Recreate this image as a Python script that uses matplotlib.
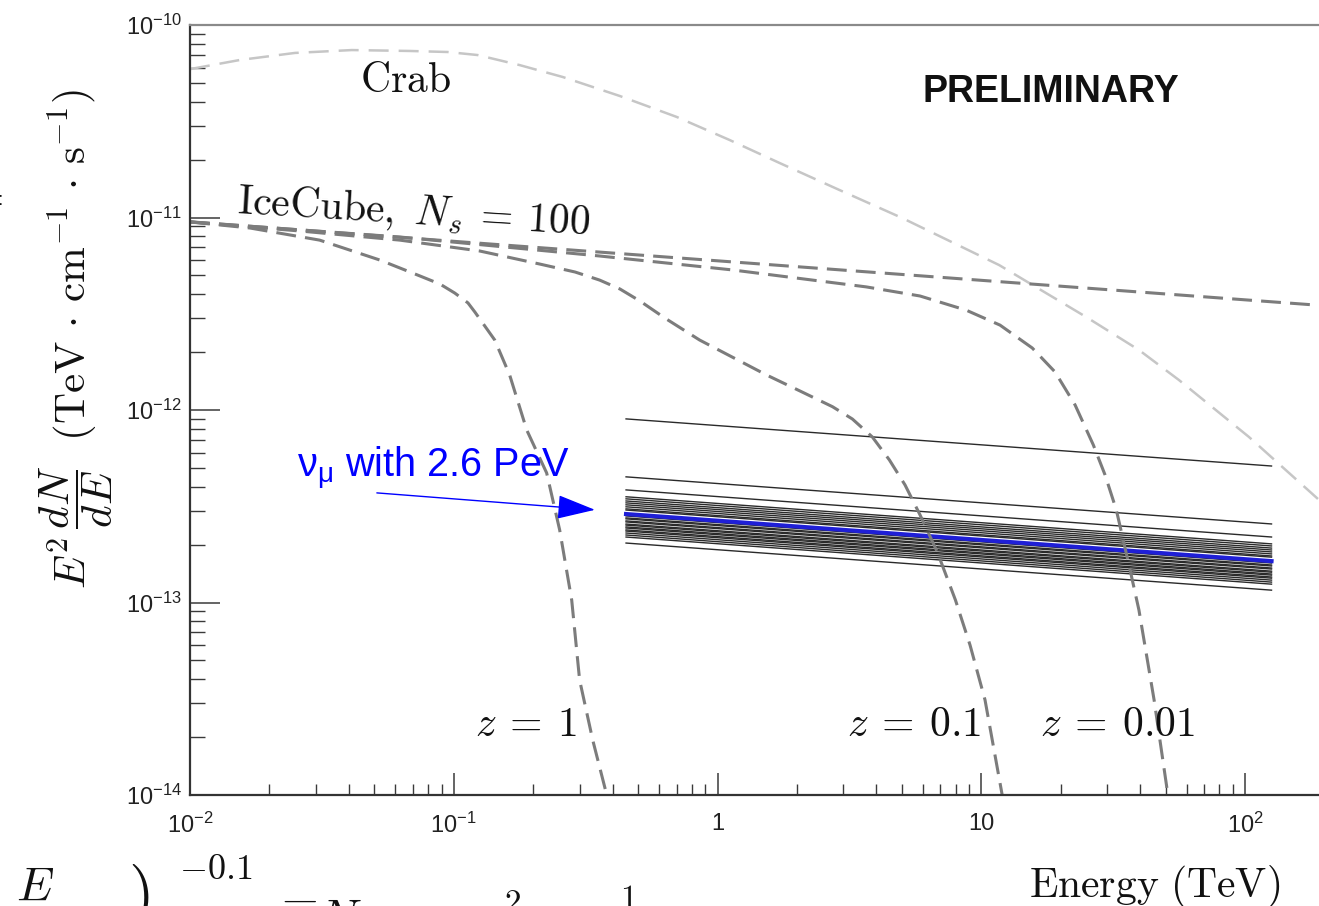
import numpy as np
import matplotlib
matplotlib.use('Agg')
import matplotlib.pyplot as plt
from matplotlib.ticker import LogLocator, FuncFormatter, NullFormatter

plt.rcParams['font.family'] = 'Liberation Sans'
plt.rcParams['mathtext.fontset'] = 'custom'
plt.rcParams['mathtext.rm'] = 'Liberation Sans'
plt.rcParams['mathtext.it'] = 'Liberation Sans:italic'
plt.rcParams['mathtext.bf'] = 'Liberation Sans:bold'

# E in TeV, E^2 dN/dE in TeV cm^-1 s^-1
crab_E = [0.01, 0.01545, 0.025, 0.0411, 0.0681, 0.0948, 0.1233, 0.1778, 0.2588, 0.4256,
          0.700, 1.109, 1.718, 2.897, 5.02, 11.69, 25.0, 39.6, 56.2, 103.5, 189.0]
crab_F = [5.90e-11, 6.58e-11, 7.16e-11, 7.41e-11, 7.33e-11, 7.24e-11, 6.98e-11, 6.19e-11,
          5.37e-11, 4.28e-11, 3.33e-11, 2.53e-11, 1.92e-11, 1.39e-11, 9.93e-12, 5.66e-12,
          3.04e-12, 2.05e-12, 1.43e-12, 7.24e-13, 3.45e-13]

icecube_E = [0.01, 190.0]
icecube_F = [9.5e-12, 3.5e-12]

# EBL absorbed IceCube spectrum for three redshifts
z1_E = [0.01, 0.01687, 0.0310, 0.0525, 0.0744, 0.0887, 0.1009, 0.1132, 0.1202, 0.1430,
        0.1629, 0.1891, 0.2250, 0.2521, 0.2800, 0.3000, 0.3364, 0.3802, 0.387]
z1_F = [9.48e-12, 8.82e-12, 7.63e-12, 6.01e-12, 4.97e-12, 4.51e-12, 4.05e-12, 3.60e-12,
        3.23e-12, 2.31e-12, 1.52e-12, 7.87e-13, 4.71e-13, 2.38e-13, 1.03e-13, 3.96e-14,
        1.93e-14, 1.0e-14, 9.4e-15]

z01_E = [0.01, 0.0261, 0.0624, 0.1253, 0.2119, 0.2883, 0.3573, 0.4269, 0.5084, 0.6323,
         0.855, 1.115, 1.534, 2.055, 2.729, 3.245, 3.864, 4.484, 5.139, 5.859, 6.81, 7.98,
         9.065, 10.33, 11.91, 12.1]
z01_F = [9.48e-12, 8.51e-12, 7.63e-12, 6.70e-12, 5.73e-12, 5.21e-12, 4.73e-12, 4.25e-12,
         3.68e-12, 3.00e-12, 2.31e-12, 1.91e-12, 1.52e-12, 1.255e-12, 1.04e-12, 8.98e-13,
         7.24e-13, 5.50e-13, 4.08e-13, 2.85e-13, 1.83e-13, 1.03e-13, 6.01e-14, 3.12e-14,
         1.06e-14, 9.4e-15]

z001_E = [0.01, 0.0624, 0.3573, 1.140, 3.664, 5.859, 8.77, 11.78, 15.6, 19.04, 22.68, 26.6,
          29.46, 32.5, 36.64, 39.6, 45.2, 51.0, 52.0]
z001_F = [9.48e-12, 7.92e-12, 6.31e-12, 5.34e-12, 4.36e-12, 3.91e-12, 3.30e-12, 2.76e-12,
          2.10e-12, 1.576e-12, 1.062e-12, 6.58e-13, 4.60e-13, 3.03e-13, 1.48e-13, 9.14e-14,
          3.12e-14, 1.0e-14, 9.4e-15]

# neutrino spectra E^-2.1, normalisation at 1 TeV
nu_range = [0.45, 126.0]
nu_index = -0.1
nu_norm = [8.30e-13, 4.15e-13, 3.55e-13, 3.27e-13, 3.19e-13, 3.11e-13, 3.04e-13, 2.97e-13,
           2.90e-13, 2.83e-13, 2.79e-13, 2.60e-13, 2.54e-13, 2.51e-13, 2.45e-13, 2.42e-13,
           2.36e-13, 2.33e-13, 2.28e-13, 2.25e-13, 2.20e-13, 2.17e-13, 2.12e-13, 2.07e-13,
           2.02e-13, 1.88e-13]
nu_pev_norm = 2.66e-13

W, H = 1319, 906
fig = plt.figure(figsize=(W / 100, H / 100), dpi=100)
ax = fig.add_axes([190 / W, 111 / H, 1150 / W, 770 / H])
ax.set_xscale('log')
ax.set_yscale('log')
ax.set_xlim(1e-2, 10 ** 2.36)
ax.set_ylim(1e-14, 1e-10)

E_nu = np.array(nu_range)
for n in nu_norm:
    ax.plot(E_nu, n * E_nu ** nu_index, color='#2a2a2a', lw=1.0)
ax.plot(E_nu, nu_pev_norm * E_nu ** nu_index, color='#1f1fd6', lw=3.0)

l, = ax.plot(crab_E, crab_F, color='#c6c6c6', lw=1.8)
l.set_dashes([8, 4])
for xs, ys in [(icecube_E, icecube_F), (z1_E, z1_F), (z01_E, z01_F), (z001_E, z001_F)]:
    l, = ax.plot(xs, ys, color='#7c7c7c', lw=2.2)
    l.set_dashes([6.5, 3])

for s in ['left', 'bottom']:
    ax.spines[s].set_color('#333333')
    ax.spines[s].set_linewidth(1.6)
ax.spines['top'].set_color('#8a8a8a')
ax.spines['top'].set_linewidth(1.6)
ax.spines['right'].set_visible(False)


def xfmt(v, pos):
    e = int(round(np.log10(v)))
    if e == 0:
        return '1'
    if e == 1:
        return '10'
    return r'$10^{%d}$' % e


def yfmt(v, pos):
    return r'$10^{%d}$' % int(round(np.log10(v)))


ax.xaxis.set_major_locator(LogLocator(base=10, numticks=20))
ax.xaxis.set_minor_locator(LogLocator(base=10, subs=np.arange(2, 10), numticks=20))
ax.yaxis.set_major_locator(LogLocator(base=10, numticks=20))
ax.yaxis.set_minor_locator(LogLocator(base=10, subs=np.arange(2, 10), numticks=20))
ax.xaxis.set_major_formatter(FuncFormatter(xfmt))
ax.yaxis.set_major_formatter(FuncFormatter(yfmt))
ax.xaxis.set_minor_formatter(NullFormatter())
ax.yaxis.set_minor_formatter(NullFormatter())

ax.tick_params(which='both', direction='in', color='#3a3a3a', top=False, right=False,
               labelcolor='#222222', labelsize=17)
ax.tick_params(axis='x', which='major', length=16, width=1.1, pad=13)
ax.tick_params(axis='x', which='minor', length=8, width=1.0)
ax.tick_params(axis='y', which='major', length=21.6, width=1.1, pad=6)
ax.tick_params(axis='y', which='minor', length=10.8, width=1.0)


def ftext(x, y, s, **kw):
    return fig.text(x / W, 1 - y / H, s, **kw)


cm = dict(math_fontfamily='cm', color='#111111')
ftext(76, 339,
      r'$E^2\,\dfrac{dN}{dE}\ \ (\mathrm{TeV}\,\cdot\,\mathrm{cm}^{-1}\,\cdot\,\mathrm{s}^{-1})$',
      rotation=90, ha='center', va='center', size=31, **cm)
ftext(1280, 897, r'$\mathrm{Energy\ (TeV)}$', ha='right', va='baseline', size=30, **cm)

ftext(360, 92, r'$\mathrm{Crab}$', ha='left', va='baseline', size=30, **cm)
ftext(237, 213, r'$\mathrm{IceCube,}\ N_s\:=\:100$', ha='left', va='baseline', size=30,
      rotation=-3.5, rotation_mode='anchor', **cm)
ftext(475, 736, r'$z\:=\:1$', ha='left', va='baseline', size=30, **cm)
ftext(847, 736, r'$z\:=\:0.1$', ha='left', va='baseline', size=30, **cm)
ftext(1040, 736, r'$z\:=\:0.01$', ha='left', va='baseline', size=30, **cm)
ftext(923, 102, 'PRELIMINARY', ha='left', va='baseline', size=27, fontweight='bold',
      color='#111111')

ftext(297, 477, r'$\mathrm{\nu_{\mu}}$ with 2.6 PeV', ha='left', va='baseline', size=28.5,
      color='blue')
ax.annotate('', xy=(0.343, 3.03e-13), xytext=(0.0511, 3.71e-13),
            arrowprops=dict(arrowstyle='-|>,head_length=1.2,head_width=0.38',
                            mutation_scale=20, color='blue', lw=1.0,
                            shrinkA=0, shrinkB=0))

# pieces of the slide text cut by the screenshot
ftext(16, 900, r'$E$', ha='left', va='baseline', size=34, **cm)
ftext(128, 914, r'$)$', ha='left', va='baseline', size=48, **cm)
ftext(179, 879, r'$-0.1$', ha='left', va='baseline', size=26, **cm)
ftext(273, 917, r'$=$', ha='left', va='baseline', size=34, **cm)
ftext(318, 932, r'$N$', ha='left', va='baseline', size=34, **cm)
ftext(504, 912, r'$2$', ha='left', va='baseline', size=24, **cm)
ftext(620, 908, r'$1$', ha='left', va='baseline', size=24, **cm)
ftext(-3, 205, ':', ha='left', va='baseline', size=14, color='#111111')

fig.savefig('out.png', dpi=100)
